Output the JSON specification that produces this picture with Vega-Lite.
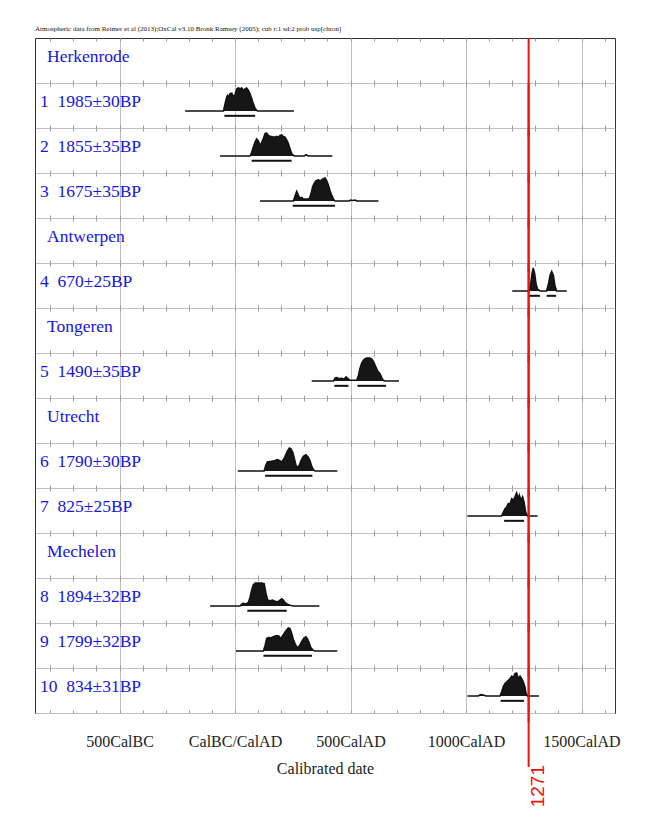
{
"$schema": "https://vega.github.io/schema/vega-lite/v6.json",
"background": "white",
"padding": {"left": 35, "top": 25, "right": 10, "bottom": 5},
"title": {"text": "Atmospheric data from Reimer et al (2013);OxCal v3.10 Bronk Ramsey (2005); cub r:1 sd:2 prob usp[chron]", "anchor": "start", "font": "Liberation Serif", "fontSize": 7, "fontWeight": "normal", "color": "#111", "offset": 5, "frame": "group"},
"config": {"view": {"stroke": null}},
"data": {"values": [
  {"row":"r01","kind":"head","label":"Herkenrode"},
  {"row":"r02","kind":"item","label":"1  1985±30BP"},
  {"row":"r03","kind":"item","label":"2  1855±35BP"},
  {"row":"r04","kind":"item","label":"3  1675±35BP"},
  {"row":"r05","kind":"head","label":"Antwerpen"},
  {"row":"r06","kind":"item","label":"4  670±25BP"},
  {"row":"r07","kind":"head","label":"Tongeren"},
  {"row":"r08","kind":"item","label":"5  1490±35BP"},
  {"row":"r09","kind":"head","label":"Utrecht"},
  {"row":"r10","kind":"item","label":"6  1790±30BP"},
  {"row":"r11","kind":"item","label":"7  825±25BP"},
  {"row":"r12","kind":"head","label":"Mechelen"},
  {"row":"r13","kind":"item","label":"8  1894±32BP"},
  {"row":"r14","kind":"item","label":"9  1799±32BP"},
  {"row":"r15","kind":"item","label":"10  834±31BP"},
  {"row":"r15","kind":"marker","label":"1271","year":1271},
  {"row":"r02","start":-46,"end":87},
  {"row":"r03","start":72,"end":245},
  {"row":"r04","start":250,"end":433},
  {"row":"r06","start":1270,"end":1320},
  {"row":"r06","start":1349,"end":1390},
  {"row":"r08","start":430,"end":491},
  {"row":"r08","start":530,"end":654},
  {"row":"r10","start":130,"end":335},
  {"row":"r11","start":1165,"end":1251},
  {"row":"r13","start":53,"end":224},
  {"row":"r14","start":123,"end":333},
  {"row":"r15","start":1150,"end":1251},
  {"row":"r02","year":-216,"p":0},{"row":"r02","year":-50,"p":0},{"row":"r02","year":-43,"p":0.32},{"row":"r02","year":-36,"p":0.61},{"row":"r02","year":-32,"p":0.68},{"row":"r02","year":-26,"p":0.58},{"row":"r02","year":-22,"p":0.75},{"row":"r02","year":-14,"p":0.77},{"row":"r02","year":-10,"p":0.68},{"row":"r02","year":-3,"p":0.61},{"row":"r02","year":3,"p":0.82},{"row":"r02","year":7,"p":0.96},{"row":"r02","year":14,"p":1.0},{"row":"r02","year":22,"p":0.97},{"row":"r02","year":29,"p":1.0},{"row":"r02","year":36,"p":0.89},{"row":"r02","year":43,"p":0.96},{"row":"r02","year":50,"p":1.0},{"row":"r02","year":58,"p":0.89},{"row":"r02","year":65,"p":0.75},{"row":"r02","year":72,"p":0.54},{"row":"r02","year":79,"p":0.32},{"row":"r02","year":87,"p":0.11},{"row":"r02","year":97,"p":0},{"row":"r02","year":255,"p":0},
  {"row":"r03","year":-65,"p":0},{"row":"r03","year":65,"p":0},{"row":"r03","year":72,"p":0.15},{"row":"r03","year":79,"p":0.38},{"row":"r03","year":87,"p":0.62},{"row":"r03","year":94,"p":0.74},{"row":"r03","year":101,"p":0.66},{"row":"r03","year":108,"p":0.46},{"row":"r03","year":115,"p":0.57},{"row":"r03","year":123,"p":0.77},{"row":"r03","year":130,"p":0.97},{"row":"r03","year":137,"p":1.0},{"row":"r03","year":144,"p":0.89},{"row":"r03","year":152,"p":0.85},{"row":"r03","year":159,"p":0.85},{"row":"r03","year":166,"p":0.82},{"row":"r03","year":173,"p":0.82},{"row":"r03","year":180,"p":0.85},{"row":"r03","year":188,"p":0.82},{"row":"r03","year":195,"p":0.89},{"row":"r03","year":202,"p":0.92},{"row":"r03","year":209,"p":0.85},{"row":"r03","year":216,"p":0.82},{"row":"r03","year":224,"p":0.69},{"row":"r03","year":231,"p":0.54},{"row":"r03","year":238,"p":0.31},{"row":"r03","year":245,"p":0.11},{"row":"r03","year":252,"p":0.03},{"row":"r03","year":260,"p":0},{"row":"r03","year":300,"p":0},{"row":"r03","year":307,"p":0.06},{"row":"r03","year":317,"p":0},{"row":"r03","year":421,"p":0},
  {"row":"r04","year":108,"p":0},{"row":"r04","year":253,"p":0},{"row":"r04","year":260,"p":0.23},{"row":"r04","year":267,"p":0.42},{"row":"r04","year":274,"p":0.26},{"row":"r04","year":281,"p":0.12},{"row":"r04","year":289,"p":0.15},{"row":"r04","year":296,"p":0.08},{"row":"r04","year":310,"p":0.08},{"row":"r04","year":322,"p":0.11},{"row":"r04","year":329,"p":0.31},{"row":"r04","year":336,"p":0.62},{"row":"r04","year":343,"p":0.77},{"row":"r04","year":351,"p":0.88},{"row":"r04","year":361,"p":0.92},{"row":"r04","year":368,"p":0.88},{"row":"r04","year":375,"p":0.92},{"row":"r04","year":382,"p":0.97},{"row":"r04","year":390,"p":1.0},{"row":"r04","year":397,"p":0.88},{"row":"r04","year":404,"p":0.69},{"row":"r04","year":411,"p":0.46},{"row":"r04","year":419,"p":0.23},{"row":"r04","year":426,"p":0.08},{"row":"r04","year":433,"p":0},{"row":"r04","year":495,"p":0},{"row":"r04","year":500,"p":0.04},{"row":"r04","year":510,"p":0.02},{"row":"r04","year":520,"p":0.04},{"row":"r04","year":527,"p":0},{"row":"r04","year":621,"p":0},
  {"row":"r06","year":1200,"p":0},{"row":"r06","year":1274,"p":0},{"row":"r06","year":1280,"p":0.31},{"row":"r06","year":1286,"p":0.77},{"row":"r06","year":1291,"p":1.0},{"row":"r06","year":1297,"p":0.77},{"row":"r06","year":1303,"p":0.31},{"row":"r06","year":1310,"p":0.08},{"row":"r06","year":1320,"p":0},{"row":"r06","year":1349,"p":0},{"row":"r06","year":1357,"p":0.31},{"row":"r06","year":1364,"p":0.69},{"row":"r06","year":1371,"p":0.85},{"row":"r06","year":1378,"p":0.69},{"row":"r06","year":1385,"p":0.23},{"row":"r06","year":1392,"p":0},{"row":"r06","year":1436,"p":0},
  {"row":"r08","year":332,"p":0},{"row":"r08","year":426,"p":0},{"row":"r08","year":433,"p":0.12},{"row":"r08","year":440,"p":0.15},{"row":"r08","year":447,"p":0.12},{"row":"r08","year":455,"p":0.11},{"row":"r08","year":462,"p":0.12},{"row":"r08","year":472,"p":0.08},{"row":"r08","year":481,"p":0.18},{"row":"r08","year":488,"p":0.11},{"row":"r08","year":498,"p":0.03},{"row":"r08","year":509,"p":0.03},{"row":"r08","year":527,"p":0.03},{"row":"r08","year":534,"p":0.23},{"row":"r08","year":541,"p":0.54},{"row":"r08","year":548,"p":0.77},{"row":"r08","year":555,"p":0.89},{"row":"r08","year":563,"p":0.97},{"row":"r08","year":570,"p":1.0},{"row":"r08","year":584,"p":1.0},{"row":"r08","year":592,"p":0.95},{"row":"r08","year":599,"p":0.85},{"row":"r08","year":606,"p":0.69},{"row":"r08","year":616,"p":0.46},{"row":"r08","year":628,"p":0.31},{"row":"r08","year":635,"p":0.15},{"row":"r08","year":642,"p":0.03},{"row":"r08","year":649,"p":0},{"row":"r08","year":710,"p":0},
  {"row":"r10","year":12,"p":0},{"row":"r10","year":126,"p":0},{"row":"r10","year":133,"p":0.24},{"row":"r10","year":140,"p":0.39},{"row":"r10","year":152,"p":0.41},{"row":"r10","year":163,"p":0.43},{"row":"r10","year":173,"p":0.46},{"row":"r10","year":183,"p":0.5},{"row":"r10","year":192,"p":0.46},{"row":"r10","year":202,"p":0.39},{"row":"r10","year":212,"p":0.53},{"row":"r10","year":221,"p":0.74},{"row":"r10","year":228,"p":0.89},{"row":"r10","year":235,"p":1.0},{"row":"r10","year":242,"p":0.96},{"row":"r10","year":250,"p":0.81},{"row":"r10","year":257,"p":0.53},{"row":"r10","year":264,"p":0.24},{"row":"r10","year":271,"p":0.17},{"row":"r10","year":278,"p":0.24},{"row":"r10","year":286,"p":0.46},{"row":"r10","year":296,"p":0.64},{"row":"r10","year":307,"p":0.71},{"row":"r10","year":317,"p":0.6},{"row":"r10","year":325,"p":0.43},{"row":"r10","year":332,"p":0.2},{"row":"r10","year":339,"p":0.06},{"row":"r10","year":346,"p":0},{"row":"r10","year":443,"p":0},
  {"row":"r11","year":1006,"p":0},{"row":"r11","year":1154,"p":0},{"row":"r11","year":1162,"p":0.17},{"row":"r11","year":1169,"p":0.32},{"row":"r11","year":1176,"p":0.39},{"row":"r11","year":1183,"p":0.54},{"row":"r11","year":1190,"p":0.51},{"row":"r11","year":1198,"p":0.75},{"row":"r11","year":1205,"p":0.68},{"row":"r11","year":1212,"p":0.83},{"row":"r11","year":1219,"p":1.0},{"row":"r11","year":1227,"p":0.75},{"row":"r11","year":1231,"p":0.9},{"row":"r11","year":1238,"p":0.68},{"row":"r11","year":1245,"p":0.83},{"row":"r11","year":1251,"p":0.61},{"row":"r11","year":1258,"p":0.17},{"row":"r11","year":1266,"p":0},{"row":"r11","year":1310,"p":0},
  {"row":"r13","year":-108,"p":0},{"row":"r13","year":22,"p":0},{"row":"r13","year":29,"p":0.08},{"row":"r13","year":36,"p":0.12},{"row":"r13","year":43,"p":0.08},{"row":"r13","year":50,"p":0.11},{"row":"r13","year":58,"p":0.15},{"row":"r13","year":65,"p":0.38},{"row":"r13","year":72,"p":0.69},{"row":"r13","year":79,"p":0.92},{"row":"r13","year":87,"p":1.0},{"row":"r13","year":101,"p":1.0},{"row":"r13","year":115,"p":1.0},{"row":"r13","year":126,"p":0.97},{"row":"r13","year":134,"p":0.54},{"row":"r13","year":141,"p":0.26},{"row":"r13","year":152,"p":0.23},{"row":"r13","year":163,"p":0.26},{"row":"r13","year":173,"p":0.2},{"row":"r13","year":183,"p":0.18},{"row":"r13","year":192,"p":0.23},{"row":"r13","year":202,"p":0.31},{"row":"r13","year":209,"p":0.26},{"row":"r13","year":216,"p":0.15},{"row":"r13","year":227,"p":0.08},{"row":"r13","year":238,"p":0.03},{"row":"r13","year":252,"p":0},{"row":"r13","year":365,"p":0},
  {"row":"r14","year":4,"p":0},{"row":"r14","year":123,"p":0},{"row":"r14","year":130,"p":0.23},{"row":"r14","year":137,"p":0.54},{"row":"r14","year":144,"p":0.58},{"row":"r14","year":154,"p":0.57},{"row":"r14","year":166,"p":0.62},{"row":"r14","year":177,"p":0.66},{"row":"r14","year":188,"p":0.66},{"row":"r14","year":198,"p":0.54},{"row":"r14","year":206,"p":0.66},{"row":"r14","year":216,"p":0.82},{"row":"r14","year":224,"p":0.92},{"row":"r14","year":231,"p":1.0},{"row":"r14","year":238,"p":0.97},{"row":"r14","year":245,"p":0.77},{"row":"r14","year":252,"p":0.51},{"row":"r14","year":260,"p":0.31},{"row":"r14","year":267,"p":0.18},{"row":"r14","year":274,"p":0.15},{"row":"r14","year":281,"p":0.26},{"row":"r14","year":289,"p":0.42},{"row":"r14","year":299,"p":0.57},{"row":"r14","year":307,"p":0.62},{"row":"r14","year":313,"p":0.54},{"row":"r14","year":320,"p":0.38},{"row":"r14","year":328,"p":0.15},{"row":"r14","year":336,"p":0.05},{"row":"r14","year":346,"p":0},{"row":"r14","year":443,"p":0},
  {"row":"r15","year":1006,"p":0},{"row":"r15","year":1053,"p":0},{"row":"r15","year":1063,"p":0.06},{"row":"r15","year":1075,"p":0.04},{"row":"r15","year":1087,"p":0},{"row":"r15","year":1147,"p":0},{"row":"r15","year":1154,"p":0.17},{"row":"r15","year":1162,"p":0.42},{"row":"r15","year":1169,"p":0.54},{"row":"r15","year":1176,"p":0.61},{"row":"r15","year":1183,"p":0.68},{"row":"r15","year":1190,"p":0.75},{"row":"r15","year":1198,"p":0.86},{"row":"r15","year":1205,"p":0.8},{"row":"r15","year":1212,"p":0.97},{"row":"r15","year":1219,"p":1.0},{"row":"r15","year":1227,"p":0.75},{"row":"r15","year":1234,"p":0.86},{"row":"r15","year":1241,"p":0.75},{"row":"r15","year":1248,"p":0.61},{"row":"r15","year":1255,"p":0.39},{"row":"r15","year":1260,"p":0.1},{"row":"r15","year":1266,"p":0},{"row":"r15","year":1316,"p":0}
]},
"facet": {"row": {"field": "row", "type": "nominal", "header": null}},
"spacing": 0,
"bounds": "flush",
"resolve": {"scale": {"y": "independent"}},
"spec": {
 "width": 580, "height": 45,
 "resolve": {"axis": {"x": "independent", "y": "independent"}},
 "layer": [
  {
   "transform": [{"filter": "isValid(datum.p)"}],
   "mark": {"type": "area", "color": "#161616", "opacity": 1, "interpolate": "linear", "line": {"color": "#111", "strokeWidth": 1.6}},
   "encoding": {
    "x": {"field": "year", "type": "quantitative", "scale": {"domain": [-866, 1645], "nice": false, "zero": false},
     "axis": {"orient": "bottom", "values": [-500, 0, 500, 1000, 1500], "labelExpr": "datum.value == -500 ? '500CalBC' : datum.value == 0 ? 'CalBC/CalAD' : datum.value + 'CalAD'", "labelFont": "Liberation Serif", "labelFontSize": 16, "labelColor": "#222", "labelPadding": 20, "labelFlush": false, "labelOverlap": false, "ticks": false, "tickSize": 0, "domain": true, "domainColor": "#333", "domainWidth": 1, "grid": true, "gridColor": "#c0c0c0", "gridWidth": 1, "title": "Calibrated date", "titleFont": "Liberation Serif", "titleFontSize": 16, "titleFontWeight": "normal", "titleColor": "#222", "titlePadding": 11}},
    "y": {"field": "p", "type": "quantitative", "scale": {"domain": [-0.739, 1.217], "nice": false, "zero": false},
     "axis": {"orient": "left", "values": [-0.739], "labels": false, "ticks": false, "title": null, "domain": true, "domainColor": "#333", "grid": true, "gridColor": "#c0c0c0", "gridWidth": 1}},
    "y2": {"datum": 0}
   }
  },
  {
   "transform": [{"filter": "isValid(datum.start)"}],
   "mark": {"type": "rule", "strokeWidth": 2, "color": "#111"},
   "encoding": {
    "x": {"field": "start", "type": "quantitative", "scale": {"domain": [-866, 1645], "nice": false, "zero": false},
     "axis": {"orient": "top", "values": [-800,-700,-600,-500,-400,-300,-200,-100,0,100,200,300,400,500,600,700,800,900,1000,1100,1200,1300,1400,1500,1600], "labels": false, "ticks": false, "tickSize": 0, "title": null, "domain": true, "domainColor": "#333", "domainWidth": 1, "grid": true, "gridColor": "#999", "gridWidth": 1, "gridDash": [3, 39, 3]}},
    "x2": {"field": "end"},
    "y": {"datum": -0.21, "type": "quantitative", "scale": {"domain": [-0.739, 1.217], "nice": false, "zero": false},
     "axis": {"orient": "right", "labels": false, "ticks": false, "title": null, "domain": true, "domainColor": "#333", "grid": false}}
   }
  },
  {
   "transform": [{"filter": "datum.kind === 'head'"}],
   "mark": {"type": "text", "align": "left", "baseline": "middle", "font": "Liberation Serif", "fontSize": 17.5, "color": "#1414e6"},
   "encoding": {
    "x": {"datum": -814, "type": "quantitative", "scale": {"domain": [-866, 1645], "nice": false, "zero": false}, "axis": null},
    "y": {"datum": 0.4, "type": "quantitative", "scale": {"domain": [-0.739, 1.217], "nice": false, "zero": false}, "axis": null},
    "text": {"field": "label"}
   }
  },
  {
   "transform": [{"filter": "datum.kind === 'item'"}, {"calculate": "replace(datum.label, '  ', '\u00a0\u00a0')", "as": "shown"}],
   "mark": {"type": "text", "align": "left", "baseline": "middle", "font": "Liberation Serif", "fontSize": 17.5, "color": "#1414e6"},
   "encoding": {
    "x": {"datum": -844, "type": "quantitative", "scale": {"domain": [-866, 1645], "nice": false, "zero": false}, "axis": null},
    "y": {"datum": 0.4, "type": "quantitative", "scale": {"domain": [-0.739, 1.217], "nice": false, "zero": false}, "axis": null},
    "text": {"field": "shown"}
   }
  },
  {
   "transform": [{"filter": "datum.kind === 'head' || datum.kind === 'item'"}],
   "mark": {"type": "rule", "strokeWidth": 2, "color": "#ee1111"},
   "encoding": {
    "x": {"datum": 1271, "type": "quantitative", "scale": {"domain": [-866, 1645], "nice": false, "zero": false}, "axis": null},
    "y": {"datum": 1.217, "type": "quantitative", "scale": {"domain": [-0.739, 1.217], "nice": false, "zero": false}, "axis": null},
    "y2": {"datum": -3.086}
   }
  },
  {
   "transform": [{"filter": "datum.kind === 'marker'"}],
   "mark": {"type": "text", "align": "right", "baseline": "top", "angle": 270, "font": "Liberation Sans", "fontSize": 19, "color": "#ee1111"},
   "encoding": {
    "x": {"field": "year", "type": "quantitative", "scale": {"domain": [-866, 1645], "nice": false, "zero": false}, "axis": null},
    "y": {"datum": -3.0, "type": "quantitative", "scale": {"domain": [-0.739, 1.217], "nice": false, "zero": false}, "axis": null},
    "text": {"field": "label"}
   }
  }
 ]
}
}
